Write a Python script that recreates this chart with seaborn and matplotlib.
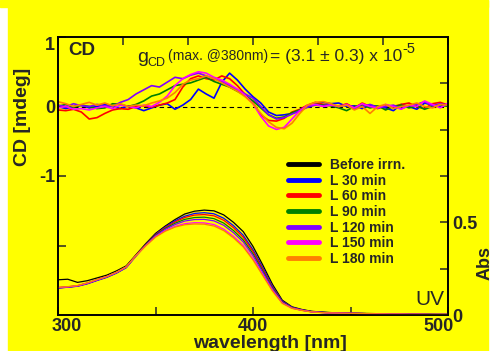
import numpy as np
import pandas as pd
import seaborn as sns
import matplotlib
from matplotlib import pyplot as plt
from matplotlib.lines import Line2D
from matplotlib.patches import Rectangle
from matplotlib.transforms import ScaledTranslation

#	series names and colours
labels = ["Before irrn.", "L 30 min", "L 60 min", "L 90 min", "L 120 min", "L 150 min", "L 180 min"]
colors = ["#000000", "#0000FF", "#FF0000", "#008000", "#8000FF", "#FF00FF", "#FF8000"]

#	CD spectra [mdeg], 300-500 nm every 4 nm (no CD trace for "Before irrn.")
wl_cd = np.arange(300, 501, 4)
cd_30 = [0.0, -0.03, 0.0, 0.02, -0.02, 0.0, 0.03, 0.0, -0.03, 0.01, -0.02, -0.06, -0.02, 0.02, 0.04, -0.04,
		0.02, 0.10, 0.25, 0.18, 0.12, 0.35, 0.48, 0.38, 0.25, 0.14, 0.05, -0.08, -0.13, -0.12, -0.10, -0.06,
		0.0, 0.05, 0.06, 0.04, 0.05, 0.0, 0.01, -0.03, 0.02, 0.0, -0.02, -0.06, 0.03, 0.0, -0.04, 0.05, 0.02, 0.0, 0.02]
cd_60 = [-0.05, -0.06, -0.04, -0.08, -0.18, -0.16, -0.10, -0.05, -0.03, -0.04, 0.0, 0.01, -0.01, 0.02, 0.05, 0.10,
		0.28, 0.40, 0.44, 0.40, 0.38, 0.44, 0.40, 0.30, 0.17, 0.05, -0.12, -0.20, -0.21, -0.17, -0.08, -0.04,
		0.02, 0.06, 0.03, 0.02, 0.0, 0.04, -0.02, 0.05, 0.0, -0.03, 0.02, 0.0, 0.03, 0.05, 0.0, -0.03, 0.04, 0.06, 0.02]
cd_90 = [0.0, 0.03, -0.01, 0.02, 0.0, -0.03, -0.02, 0.04, 0.03, 0.0, 0.03, 0.08, 0.15, 0.18, 0.24, 0.30,
		0.32, 0.34, 0.38, 0.42, 0.36, 0.32, 0.28, 0.22, 0.16, 0.08, -0.02, -0.12, -0.17, -0.15, -0.09, -0.05,
		0.0, 0.03, 0.02, 0.01, -0.02, -0.06, 0.0, 0.02, -0.02, 0.01, -0.05, 0.0, 0.02, -0.02, 0.01, -0.04, 0.0, 0.03, 0.0]
cd_120 = [0.02, 0.0, 0.04, 0.01, 0.0, 0.03, 0.01, 0.0, 0.06, 0.10, 0.18, 0.24, 0.30, 0.28, 0.35, 0.42,
		0.40, 0.45, 0.48, 0.44, 0.40, 0.36, 0.30, 0.24, 0.18, 0.12, 0.0, -0.12, -0.18, -0.16, -0.11, -0.06,
		-0.01, 0.02, 0.01, 0.03, 0.0, 0.02, -0.03, 0.0, 0.03, -0.02, 0.0, 0.02, -0.03, 0.01, 0.03, 0.07, 0.01, 0.04, 0.02]
cd_150 = [-0.02, 0.0, -0.04, -0.03, -0.05, -0.02, 0.0, -0.03, 0.02, 0.0, -0.02, 0.02, 0.0, 0.06, 0.15, 0.30,
		0.40, 0.46, 0.50, 0.48, 0.42, 0.38, 0.32, 0.25, 0.16, 0.04, -0.14, -0.28, -0.33, -0.30, -0.18, -0.06,
		0.02, 0.03, 0.0, 0.02, 0.0, 0.03, -0.02, 0.04, 0.0, -0.02, 0.03, 0.0, -0.04, 0.02, 0.0, 0.08, 0.03, -0.02, 0.05]
cd_180 = [0.07, 0.04, 0.0, 0.03, 0.06, 0.02, 0.05, 0.01, 0.04, 0.0, 0.02, 0.01, 0.05, 0.08, 0.12, 0.20,
		0.32, 0.38, 0.40, 0.44, 0.40, 0.34, 0.28, 0.22, 0.14, 0.04, -0.10, -0.22, -0.30, -0.32, -0.24, -0.10,
		0.02, 0.06, 0.07, 0.04, 0.0, 0.02, -0.05, 0.0, -0.10, 0.0, 0.03, -0.03, 0.0, 0.02, 0.05, 0.0, -0.02, 0.03, 0.02]

#	UV absorbance, 300-500 nm every 5 nm
wl_uv = np.arange(300, 501, 5)
uv_0 = [0.190, 0.193, 0.176, 0.185, 0.200, 0.215, 0.238, 0.265, 0.325, 0.385, 0.440, 0.480, 0.515, 0.545, 0.560, 0.566,
		0.562, 0.540, 0.500, 0.450, 0.370, 0.270, 0.165, 0.080, 0.044, 0.030, 0.020, 0.016, 0.013, 0.011, 0.010,
		0.009, 0.008, 0.007, 0.006, 0.005, 0.005, 0.004, 0.004, 0.003, 0.003]
uv_30 = [0.145, 0.150, 0.155, 0.168, 0.186, 0.203, 0.226, 0.255, 0.318, 0.380, 0.435, 0.475, 0.508, 0.533, 0.548, 0.552,
		0.546, 0.522, 0.482, 0.430, 0.352, 0.255, 0.155, 0.075, 0.042, 0.028, 0.019, 0.015, 0.012, 0.010, 0.009,
		0.008, 0.007, 0.006, 0.005, 0.005, 0.004, 0.004, 0.003, 0.003, 0.003]
uv_60 = [0.148, 0.152, 0.158, 0.172, 0.190, 0.207, 0.230, 0.260, 0.322, 0.380, 0.433, 0.472, 0.502, 0.526, 0.539, 0.542,
		0.535, 0.511, 0.471, 0.419, 0.342, 0.247, 0.150, 0.072, 0.040, 0.027, 0.018, 0.014, 0.011, 0.010, 0.009,
		0.008, 0.007, 0.006, 0.005, 0.005, 0.004, 0.004, 0.003, 0.003, 0.003]
uv_90 = [0.147, 0.151, 0.157, 0.171, 0.189, 0.206, 0.229, 0.259, 0.321, 0.378, 0.430, 0.467, 0.495, 0.516, 0.526, 0.528,
		0.520, 0.496, 0.456, 0.405, 0.330, 0.238, 0.145, 0.070, 0.039, 0.026, 0.018, 0.014, 0.011, 0.010, 0.009,
		0.008, 0.007, 0.006, 0.005, 0.005, 0.004, 0.004, 0.003, 0.003, 0.003]
uv_120 = [0.146, 0.150, 0.156, 0.170, 0.188, 0.205, 0.228, 0.258, 0.320, 0.376, 0.427, 0.462, 0.488, 0.507, 0.515, 0.516,
		0.508, 0.484, 0.444, 0.394, 0.320, 0.230, 0.140, 0.068, 0.038, 0.026, 0.017, 0.014, 0.011, 0.010, 0.009,
		0.008, 0.007, 0.006, 0.005, 0.005, 0.004, 0.004, 0.003, 0.003, 0.003]
uv_150 = [0.148, 0.152, 0.158, 0.172, 0.190, 0.207, 0.230, 0.259, 0.320, 0.374, 0.422, 0.455, 0.478, 0.493, 0.498, 0.497,
		0.488, 0.463, 0.424, 0.375, 0.304, 0.218, 0.132, 0.064, 0.036, 0.025, 0.017, 0.013, 0.011, 0.010, 0.009,
		0.008, 0.007, 0.006, 0.005, 0.005, 0.004, 0.004, 0.003, 0.003, 0.003]
uv_180 = [0.149, 0.153, 0.159, 0.173, 0.191, 0.208, 0.231, 0.260, 0.320, 0.373, 0.420, 0.452, 0.474, 0.487, 0.491, 0.490,
		0.480, 0.455, 0.416, 0.367, 0.297, 0.213, 0.129, 0.063, 0.036, 0.025, 0.017, 0.013, 0.011, 0.010, 0.009,
		0.008, 0.007, 0.006, 0.005, 0.005, 0.004, 0.004, 0.003, 0.003, 0.003]

cd_values = [cd_30, cd_60, cd_90, cd_120, cd_150, cd_180]
uv_values = [uv_0, uv_30, uv_60, uv_90, uv_120, uv_150, uv_180]

YELLOW = "#FFFF00"
W, H = 495, 351

sns.set_style("ticks", {"axes.facecolor": YELLOW, "axes.edgecolor": "black"})
plt.rcParams['font.family'] = ['Liberation Sans', 'DejaVu Sans']
plt.rcParams['font.weight'] = 'bold'
plt.rcParams['axes.linewidth'] = 1.2

cd_df = pd.concat([pd.DataFrame({'wl': wl_cd, 'cd': v, 'sample': n}) for n, v in zip(labels[1:], cd_values)])
uv_df = pd.concat([pd.DataFrame({'wl': wl_uv, 'abs': v, 'sample': n}) for n, v in zip(labels, uv_values)])
palette = dict(zip(labels, colors))

fig = plt.figure(figsize=(W / 100, H / 100), dpi=100, facecolor='white')
fig.patches.append(Rectangle((8 / W, 0), 480 / W, 1, transform=fig.transFigure, color=YELLOW, zorder=-2))
fig.patches.append(Rectangle((0, 1 - 7 / H), 488 / W, 7 / H, transform=fig.transFigure, color=YELLOW, zorder=-2))

def px(x, y):
	return x / W, 1 - y / H

ax = fig.add_axes([58 / W, 1 - 315 / H, 390 / W, 278 / H])
ax.axhline(0, color='black', lw=0.8, ls=(0, (4, 3)), zorder=1)
sns.lineplot(data=cd_df, x='wl', y='cd', hue='sample', palette=palette, lw=1.2, legend=False, ax=ax, zorder=2)
ax.set_xlim(300, 500)
ax.set_ylim(-3, 1)

ax2 = ax.twinx()
sns.lineplot(data=uv_df, x='wl', y='abs', hue='sample', palette=palette, lw=0.9, legend=False, ax=ax2)
ax2.set_ylim(0, 1.5)

#	ticks
ax.set_xticks([300, 350, 400, 450, 500])
ax.set_xticklabels(['300', '', '400', '', '500'])
ax.set_yticks([1, 0, -1, -2])
ax.set_yticklabels(['1', '0', '-1', ''])
ax2.set_yticks(np.arange(0, 1.51, 0.25))
ax2.set_yticklabels(['0', '', '0.5', '', '', '', ''])
ax.tick_params(axis='both', direction='in', length=6, width=1.1, labelsize=13, pad=2)
ax2.tick_params(axis='y', direction='in', length=6, width=1.1, labelsize=13, pad=3)
sec = ax.secondary_xaxis('top')
sec.set_xticks(np.linspace(300, 500, 7))
sec.set_xticklabels([])
sec.tick_params(direction='in', length=6, width=1.1)
sec.spines['top'].set_visible(False)

xl = ax.get_xticklabels()
xl[0].set_transform(xl[0].get_transform() + ScaledTranslation(9 / 100, 0, fig.dpi_scale_trans))
xl[4].set_transform(xl[4].get_transform() + ScaledTranslation(-9 / 100, 0, fig.dpi_scale_trans))
yl = ax.get_yticklabels()
yl[0].set_transform(yl[0].get_transform() + ScaledTranslation(0, -6 / 100, fig.dpi_scale_trans))

#	axis labels
ax.set_xlabel('wavelength [nm]', fontsize=14, fontweight='bold')
ax.xaxis.set_label_coords(0.544, -0.072)
ax.set_ylabel('CD [mdeg]', fontsize=14, fontweight='bold', va='center', ha='center')
ax.yaxis.set_label_coords(-0.09, 0.712)
ax2.set_ylabel('Abs', fontsize=13, fontweight='bold', rotation=90, va='center', ha='center')
ax2.yaxis.set_label_coords(1.095, 0.187)

#	panel texts
fig.text(*px(68, 55), 'CD', fontsize=13.5, fontweight='bold', va='baseline')
fig.text(*px(415, 305), 'UV', fontsize=15, fontweight='normal', va='baseline')
fig.text(*px(137, 62), 'g', fontsize=14, fontweight='normal', va='baseline')
fig.text(*px(147, 66), 'CD', fontsize=9, fontweight='normal', va='baseline')
fig.text(*px(168, 60), '(max. @380nm)', fontsize=10, fontweight='normal', va='baseline')
fig.text(*px(270, 61), '= (3.1 \u00b1 0.3) x 10', fontsize=12.5, fontweight='normal', va='baseline')
fig.text(*px(402, 53), '-5', fontsize=10.5, fontweight='normal', va='baseline')

#	legend
handles = [Line2D([], [], color=c, lw=3.5) for c in colors]
ax2.legend(handles, labels, loc='upper left', bbox_to_anchor=((288 - 58) / 390, (315 - 158) / 278),
		frameon=False, handlelength=2.2, handletextpad=0.85, labelspacing=0.12,
		borderpad=0, borderaxespad=0, prop={'weight': 'bold', 'size': 10})

plt.savefig('out.png', dpi=100, facecolor=fig.get_facecolor())
